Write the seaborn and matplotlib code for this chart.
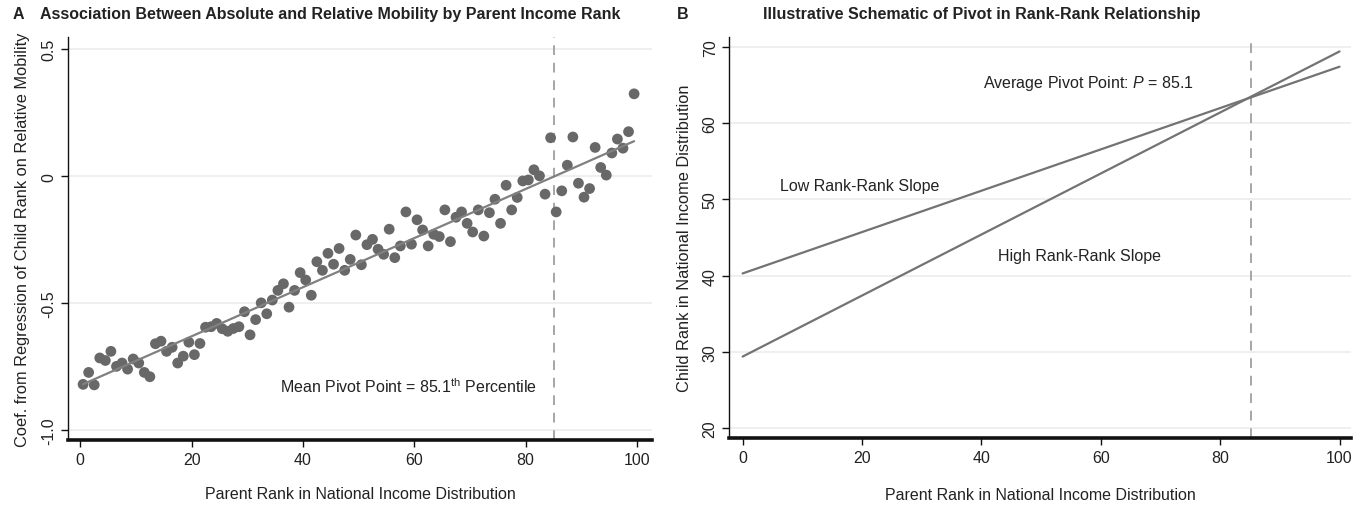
import numpy as np
import pandas as pd
import matplotlib
matplotlib.use("Agg")
import matplotlib.pyplot as plt
import seaborn as sns

# ---------------- data ----------------
parent_rank = [0.5, 1.5, 2.5, 3.5, 4.5, 5.5, 6.5, 7.5, 8.5, 9.5,
               10.5, 11.5, 12.5, 13.5, 14.5, 15.5, 16.5, 17.5, 18.5, 19.5,
               20.5, 21.5, 22.5, 23.5, 24.5, 25.5, 26.5, 27.5, 28.5, 29.5,
               30.5, 31.5, 32.5, 33.5, 34.5, 35.5, 36.5, 37.5, 38.5, 39.5,
               40.5, 41.5, 42.5, 43.5, 44.5, 45.5, 46.5, 47.5, 48.5, 49.5,
               50.5, 51.5, 52.5, 53.5, 54.5, 55.5, 56.5, 57.5, 58.5, 59.5,
               60.5, 61.5, 62.5, 63.5, 64.5, 65.5, 66.5, 67.5, 68.5, 69.5,
               70.5, 71.5, 72.5, 73.5, 74.5, 75.5, 76.5, 77.5, 78.5, 79.5,
               80.5, 81.5, 82.5, 83.5, 84.5, 85.5, 86.5, 87.5, 88.5, 89.5,
               90.5, 91.5, 92.5, 93.5, 94.5, 95.5, 96.5, 97.5, 98.5, 99.5]

coef = [-0.820, -0.773, -0.822, -0.716, -0.726, -0.690, -0.749, -0.736, -0.760, -0.720,
        -0.736, -0.773, -0.790, -0.660, -0.650, -0.690, -0.674, -0.736, -0.709, -0.654,
        -0.703, -0.659, -0.595, -0.593, -0.580, -0.601, -0.611, -0.600, -0.593, -0.534,
        -0.625, -0.565, -0.499, -0.542, -0.488, -0.450, -0.424, -0.516, -0.450, -0.380,
        -0.409, -0.469, -0.337, -0.371, -0.304, -0.347, -0.285, -0.371, -0.328, -0.232,
        -0.349, -0.270, -0.249, -0.288, -0.308, -0.209, -0.321, -0.275, -0.141, -0.268,
        -0.172, -0.212, -0.275, -0.229, -0.238, -0.133, -0.258, -0.162, -0.141, -0.186,
        -0.220, -0.133, -0.236, -0.144, -0.091, -0.186, -0.036, -0.133, -0.084, -0.019,
        -0.015, 0.025, 0.001, -0.071, 0.151, -0.141, -0.058, 0.043, 0.154, -0.028,
        -0.083, -0.049, 0.113, 0.034, 0.004, 0.091, 0.146, 0.110, 0.175, 0.324]

pivot = 85.1

schematic_rank = [0, 100]
low_slope_child = [40.3, 67.4]
high_slope_child = [29.4, 69.4]

left_yticks = [-1.0, -0.5, 0, 0.5]
left_yticklabels = ["-1.0", "-0.5", "0", "0.5"]
right_yticks = [20, 30, 40, 50, 60, 70]
xticks = [0, 20, 40, 60, 80, 100]

# ---------------- style ----------------
sns.set_theme(style="white")
plt.rcParams["font.family"] = ["Liberation Sans", "DejaVu Sans"]
plt.rcParams["mathtext.fontset"] = "custom"
plt.rcParams["mathtext.rm"] = "Liberation Sans"
plt.rcParams["mathtext.it"] = "Liberation Sans:italic"

dot_color = "#686868"
line_color = "#808080"
dash_color = "#a6a6a6"
grid_color = "#ececec"
text_color = "#222222"

fig = plt.figure(figsize=(13.61, 5.06), dpi=100)
ax1 = fig.add_axes([0.050, 0.128, 0.429, 0.797])
ax2 = fig.add_axes([0.536, 0.132, 0.457, 0.793])

df = pd.DataFrame({"rank": parent_rank, "coef": coef})


def style_axes(ax):
    for s in ["top", "right"]:
        ax.spines[s].set_visible(False)
    ax.spines["left"].set_linewidth(1.0)
    ax.spines["left"].set_color("#111111")
    ax.spines["bottom"].set_linewidth(2.6)
    ax.spines["bottom"].set_color("#111111")
    ax.tick_params(axis="both", which="major", direction="out", length=5,
                   width=1, color="#111111", labelsize=11.5, labelcolor=text_color,
                   bottom=True, left=True)
    ax.tick_params(axis="y", labelrotation=90)
    for lab in ax.get_yticklabels():
        lab.set_va("center")
    ax.grid(False)


# ---------------- panel A ----------------
for yv in left_yticks:
    ax1.axhline(yv, color=grid_color, lw=1.2, zorder=0)
ax1.axvline(pivot, color=dash_color, lw=1.4, ls=(0, (5, 4)), zorder=1)
sns.regplot(data=df, x="rank", y="coef", ax=ax1, ci=None,
            scatter_kws=dict(s=60, color=dot_color, edgecolor="none", alpha=1, zorder=3),
            line_kws=dict(color=line_color, lw=1.6, zorder=4))
ax1.set_xlim(-2.2, 102.7)
ax1.set_ylim(-1.04, 0.548)
ax1.set_xticks(xticks)
ax1.set_yticks(left_yticks)
ax1.set_yticklabels(left_yticklabels)
style_axes(ax1)
ax1.set_xlabel("Parent Rank in National Income Distribution", fontsize=11.5,
               color=text_color, labelpad=14)
ax1.set_ylabel("Coef. from Regression of Child Rank on Relative Mobility",
               fontsize=11.8, color=text_color, labelpad=8)
ax1.text(35.9, -0.825, "Mean Pivot Point = 85.1$^{\\mathrm{th}}$ Percentile",
         fontsize=11.5, color=text_color, va="center", ha="left")
fig.text(0.009, 0.972, "A", fontsize=11.5, fontweight="bold", color=text_color,
         va="center", ha="left")
fig.text(0.243, 0.972,
         "Association Between Absolute and Relative Mobility by Parent Income Rank",
         fontsize=11.5, fontweight="bold", color=text_color, va="center", ha="center")

# ---------------- panel B ----------------
for yv in right_yticks:
    ax2.axhline(yv, color=grid_color, lw=1.2, zorder=0)
ax2.axvline(pivot, color=dash_color, lw=1.4, ls=(0, (5, 4)), zorder=1)
sns.lineplot(x=schematic_rank, y=low_slope_child, ax=ax2, color="#737373", lw=1.6)
sns.lineplot(x=schematic_rank, y=high_slope_child, ax=ax2, color="#737373", lw=1.6)
ax2.set_xlim(-2.2, 102.0)
ax2.set_ylim(18.7, 71.3)
ax2.set_xticks(xticks)
ax2.set_yticks(right_yticks)
style_axes(ax2)
ax2.set_xlabel("Parent Rank in National Income Distribution", fontsize=11.5,
               color=text_color, labelpad=16)
ax2.set_ylabel("Child Rank in National Income Distribution", fontsize=11.8,
               color=text_color, labelpad=8)
ax2.text(40.2, 65.3, "Average Pivot Point: $P$ = 85.1", fontsize=11.5,
         color=text_color, va="center", ha="left")
ax2.text(6.2, 51.8, "Low Rank-Rank Slope", fontsize=11.5, color=text_color,
         va="center", ha="left")
ax2.text(42.7, 42.6, "High Rank-Rank Slope", fontsize=11.5, color=text_color,
         va="center", ha="left")
fig.text(0.497, 0.972, "B", fontsize=11.5, fontweight="bold", color=text_color,
         va="center", ha="left")
fig.text(0.7215, 0.972,
         "Illustrative Schematic of Pivot in Rank-Rank Relationship",
         fontsize=11.5, fontweight="bold", color=text_color, va="center", ha="center")

fig.savefig("out.png", dpi=100, facecolor="white")
